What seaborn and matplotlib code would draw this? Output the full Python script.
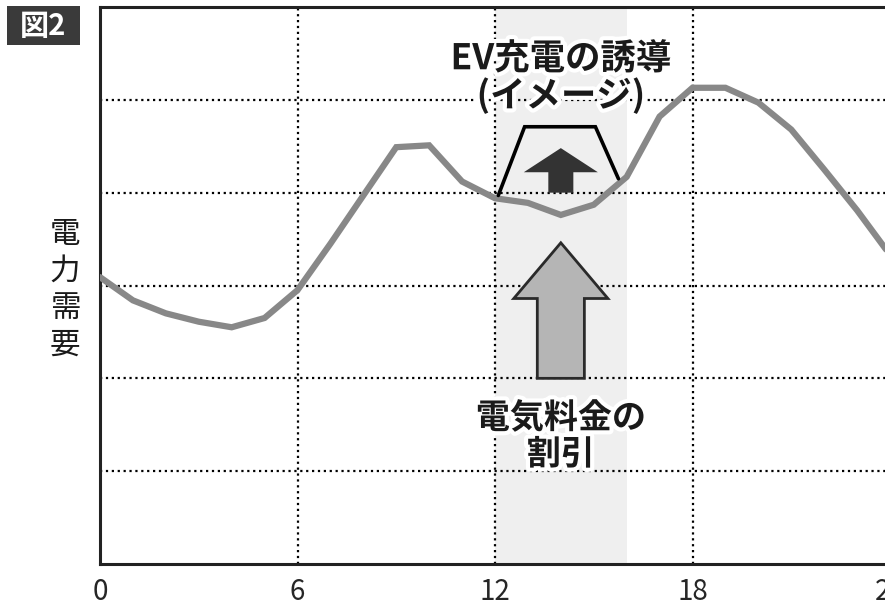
import numpy as np
import pandas as pd
import matplotlib
matplotlib.use("Agg")
import matplotlib.pyplot as plt
import matplotlib.patheffects as pe
from matplotlib.patches import FancyArrow, Rectangle
import seaborn as sns

# ---- data ----
hours = list(range(0, 25))
demand = [3.09, 2.84, 2.70, 2.61, 2.55, 2.65, 2.95, 3.45, 3.97, 4.49, 4.51, 4.12,
          3.94, 3.89, 3.76, 3.87, 4.17, 4.82, 5.13, 5.13, 4.97, 4.68, 4.25, 3.81, 3.33]
xticks = [0, 6, 12, 18, 24]
xtick_labels = ["0", "6", "12", "18", "24"]
span_start, span_end = 12, 16
ev_shape_x = [12.1, 12.9, 15.05, 15.75]
ev_shape_y = [3.97, 4.71, 4.71, 4.15]
title_text = "EV充電の誘導\n(イメージ)"
discount_text = "電気料金の\n割引"
ylabel_text = "電\n力\n需\n要"
fig_tag = "図2"

sns.set_theme(style="white")
plt.rcParams["font.family"] = ["Noto Sans CJK JP", "DejaVu Sans"]

W, H = 885, 605
fig = plt.figure(figsize=(W / 100, H / 100), dpi=100)
ax = fig.add_axes([100 / W, (H - 564) / H, 790 / W, 557 / H])

df = pd.DataFrame({"hour": hours, "demand": demand})
ax.axvspan(span_start, span_end, color="#efefef", zorder=0.1, lw=0)
sns.lineplot(data=df, x="hour", y="demand", ax=ax, color="#888888", lw=4.5,
             zorder=3, solid_joinstyle="miter")

ax.set_xlim(0, 24)
ax.set_ylim(0, 6)
ax.set_xticks(xticks)
ax.set_xticklabels(xtick_labels, fontsize=20)
ax.set_yticks([1, 2, 3, 4, 5])
ax.set_yticklabels([])
ax.tick_params(axis="both", length=0)
ax.tick_params(axis="x", pad=9)
ax.set_xlabel("")
ax.set_ylabel("")
ax.set_axisbelow(True)
ax.grid(True, color="black", linestyle=":", linewidth=1.6)
for s in ["left", "top", "bottom"]:
    ax.spines[s].set_visible(True)
    ax.spines[s].set_color("#222222")
    ax.spines[s].set_linewidth(2.2)
ax.spines["right"].set_visible(False)

# EV charging trapezoid
ax.plot(ev_shape_x, ev_shape_y, color="black", lw=2.6, zorder=4,
        solid_joinstyle="miter")
# dark arrow
ax.add_patch(FancyArrow(14.0, 4.0, 0, 0.48, width=0.76, head_width=2.25,
                        head_length=0.26, length_includes_head=True,
                        color="#333333", lw=0, zorder=4))
# big light arrow
ax.add_patch(FancyArrow(14.0, 2.0, 0, 1.46, width=1.43, head_width=2.86,
                        head_length=0.60, length_includes_head=True,
                        facecolor="#b5b5b5", edgecolor="#2a2a2a", lw=2,
                        zorder=4))

stroke = [pe.withStroke(linewidth=6, foreground="white")]
ax.text(14.0, 5.24, title_text, ha="center", va="center", fontsize=25.5,
        fontweight="bold", color="#1a1a1a", linespacing=1.05,
        path_effects=stroke, zorder=5)
ax.text(14.0, 1.38, discount_text, ha="center", va="center", fontsize=24.5,
        fontweight="bold", color="#1a1a1a", linespacing=1.05,
        path_effects=stroke, zorder=5)

fig.text(65 / W, 1 - 290 / H, ylabel_text, ha="center", va="center",
         fontsize=22, color="#1a1a1a", linespacing=1.25)

fig.patches.append(Rectangle((7 / W, 1 - 45 / H), 73 / W, 39 / H,
                             transform=fig.transFigure, facecolor="#3a3a3a",
                             edgecolor="none"))
fig.text(43.5 / W, 1 - 26 / H, fig_tag, ha="center", va="center",
         fontsize=21, fontweight="bold", color="white")

fig.savefig("out.png", dpi=100)
